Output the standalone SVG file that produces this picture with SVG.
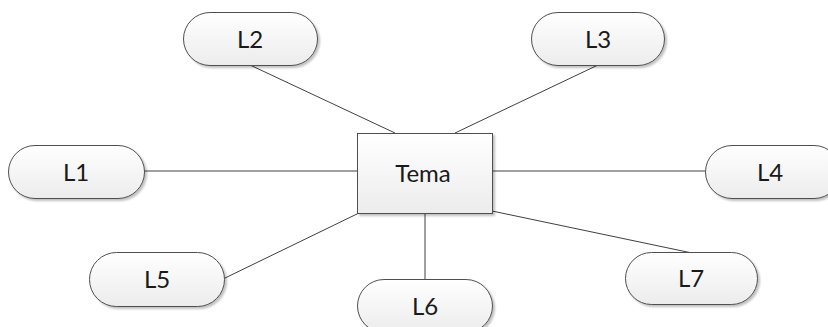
<svg xmlns="http://www.w3.org/2000/svg" width="828" height="327" viewBox="0 0 828 327">
<style>
.node{fill:url(#g);stroke:#505050;stroke-width:1;filter:url(#sh)}
.lbl{font-family:"Lato","Liberation Sans",sans-serif;font-size:24px;fill:#1a1a1a;text-anchor:middle;dominant-baseline:central}
.edge{stroke:#404040;stroke-width:1;fill:none}
</style>
<defs>
<linearGradient id="g" x1="0" y1="0" x2="0" y2="1">
<stop offset="0" stop-color="#ffffff"/>
<stop offset="1" stop-color="#ececec"/>
</linearGradient>
<filter id="sh" x="-10%" y="-10%" width="130%" height="140%">
<feGaussianBlur in="SourceAlpha" stdDeviation="1.2"/>
<feOffset dx="2" dy="2" result="b"/>
<feComponentTransfer><feFuncA type="linear" slope="0.25"/></feComponentTransfer>
<feMerge><feMergeNode/><feMergeNode in="SourceGraphic"/></feMerge>
</filter>
</defs>
<g id="connectors">
<line class="edge" x1="250" y1="65" x2="395" y2="133"/>
<line class="edge" x1="598" y1="65" x2="455" y2="133"/>
<line class="edge" x1="144" y1="171" x2="357" y2="171"/>
<line class="edge" x1="492" y1="171" x2="705" y2="171"/>
<line class="edge" x1="223" y1="279" x2="359" y2="213"/>
<line class="edge" x1="425" y1="213" x2="425" y2="279"/>
<line class="edge" x1="492" y1="211" x2="692" y2="253"/>
</g>
<g id="tema"><rect class="node" x="357.5" y="133.5" width="135" height="80"/><text class="lbl" x="423" y="172">Tema</text></g>
<g id="L1"><rect class="node" x="8.5" y="145.5" width="136" height="53" rx="26.5"/><text class="lbl" x="76" y="171">L1</text></g>
<g id="L2"><rect class="node" x="183.5" y="12.5" width="134" height="53" rx="26.5"/><text class="lbl" x="250" y="38">L2</text></g>
<g id="L3"><rect class="node" x="531.5" y="12.5" width="133" height="53" rx="26.5"/><text class="lbl" x="598" y="38">L3</text></g>
<g id="L4"><rect class="node" x="705.5" y="145.5" width="135" height="53" rx="26.5"/><text class="lbl" x="770" y="171">L4</text></g>
<g id="L5"><rect class="node" x="89.5" y="252.5" width="135" height="54" rx="27"/><text class="lbl" x="157" y="278">L5</text></g>
<g id="L6"><rect class="node" x="357.5" y="279.5" width="135" height="53" rx="26.5"/><text class="lbl" x="425" y="305">L6</text></g>
<g id="L7"><rect class="node" x="625.5" y="252.5" width="132" height="52" rx="26"/><text class="lbl" x="691" y="277">L7</text></g>
</svg>
